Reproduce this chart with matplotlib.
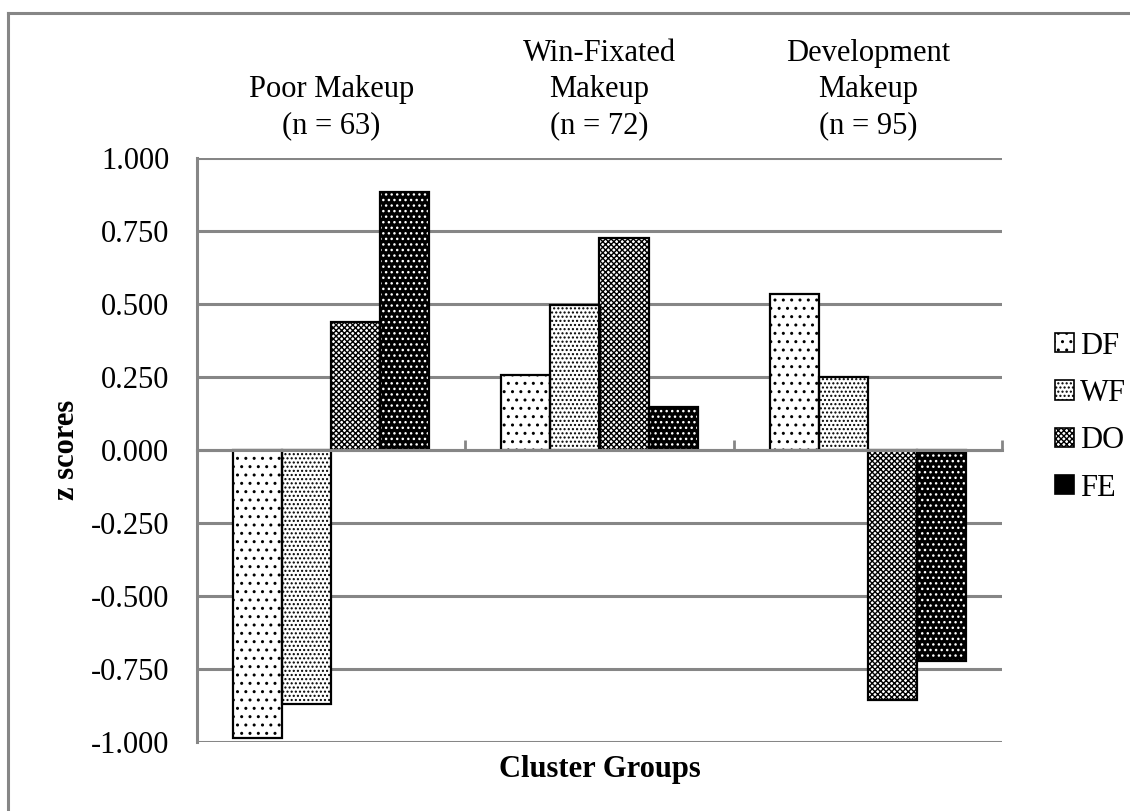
import numpy as np
import matplotlib
matplotlib.use("Agg")
import matplotlib.pyplot as plt
from matplotlib.lines import Line2D
from matplotlib.patches import Patch

# data
groups = ["Poor Makeup\n(n = 63)", "Win-Fixated\nMakeup\n(n = 72)", "Development\nMakeup\n(n = 95)"]
series = ["DF", "WF", "DO", "FE"]
df_vals = [-0.985, 0.258, 0.535]
wf_vals = [-0.870, 0.495, 0.250]
do_vals = [0.437, 0.725, -0.856]
fe_vals = [0.882, 0.146, -0.722]
yticks = [1.0, 0.75, 0.5, 0.25, 0.0, -0.25, -0.5, -0.75, -1.0]

plt.rcParams['font.family'] = ['Liberation Serif', 'DejaVu Serif']
plt.rcParams['hatch.linewidth'] = 1.0
gray = '#868686'
fs = 22

fig = plt.figure(figsize=(11.3, 8.11), dpi=100)
ax = fig.add_axes([197/1130, 1-742/811, 805/1130, 584/811])

x = np.arange(len(groups))
w = 0.183
styles = [
    dict(color='white', hatch='..', edgecolor='black'),
    dict(color='white', hatch='....', edgecolor='black'),
    dict(color='white', hatch='xxxxxx', edgecolor='black'),
    dict(color='black', hatch='...', edgecolor='white'),
]
handles = []
for i, (vals, st) in enumerate(zip([df_vals, wf_vals, do_vals, fe_vals], styles)):
    pos = x + (i - 1.5) * w
    ax.bar(pos, vals, w, color=st['color'], hatch=st['hatch'],
           edgecolor=st['edgecolor'], linewidth=0, zorder=3)
    ax.bar(pos, vals, w, fill=False, edgecolor='black', linewidth=1.6, zorder=4)
    handles.append(Patch(facecolor=st['color'], hatch=st['hatch'],
                         edgecolor='black', linewidth=1.2))

ax.set_ylim(-1.0, 1.0)
ax.set_xlim(-0.5, 2.5)
ax.set_yticks(yticks)
ax.set_yticklabels(["%.3f" % v for v in yticks], fontsize=fs)
ax.tick_params(axis='y', length=0, pad=20)
ax.yaxis.grid(True, color=gray, linewidth=2.2, zorder=0)
ax.set_axisbelow(True)

ax.spines['bottom'].set_position(('data', 0))
ax.spines['bottom'].set_color(gray)
ax.spines['bottom'].set_linewidth(2.2)
ax.spines['bottom'].set_zorder(5)
ax.spines['left'].set_color(gray)
ax.spines['left'].set_linewidth(2.2)
ax.spines['top'].set_visible(False)
ax.spines['right'].set_visible(False)
ax.set_xticks([-0.5, 0.5, 1.5, 2.5])
ax.set_xticklabels([])
ax.tick_params(axis='x', direction='in', length=7, width=2, color=gray)

for xi, g in zip(x, groups):
    ax.annotate(g, xy=(xi, 1.0), xycoords=('data', 'axes fraction'),
                xytext=(0, 13), textcoords='offset points',
                ha='center', va='bottom', fontsize=fs, linespacing=1.32)

ax.set_ylabel("z scores", fontsize=fs, fontweight='bold', labelpad=7)
ax.set_xlabel("Cluster Groups", fontsize=fs, fontweight='bold')
ax.xaxis.set_label_coords(0.5, -0.022)

fig.legend(handles, series, loc='center left', bbox_to_anchor=(1040/1130, 1-417/811),
           frameon=False, fontsize=fs, handlelength=0.6, handleheight=0.6,
           handletextpad=0.2, labelspacing=0.6, borderpad=0)

# outer chart border (left and top visible in the reference)
fig.add_artist(Line2D([8/1130, 8/1130], [0, 1-13/811], color=gray, linewidth=2.2))
fig.add_artist(Line2D([8/1130, 1], [1-13/811, 1-13/811], color=gray, linewidth=2.2))

fig.savefig("out.png", dpi=100)
